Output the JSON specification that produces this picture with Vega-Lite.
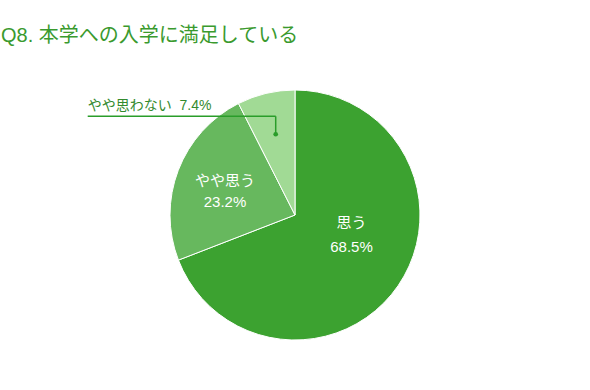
{
  "$schema": "https://vega.github.io/schema/vega-lite/v6.json",
  "width": 590,
  "height": 340,
  "autosize": "none",
  "padding": {"left": 0, "top": 45, "right": 0, "bottom": 5},
  "background": "white",
  "title": {
    "text": "Q8. 本学への入学に満足している",
    "anchor": "start",
    "frame": "group",
    "fontSize": 20,
    "font": "Liberation Sans, Noto Sans CJK JP",
    "fontWeight": "normal",
    "color": "#3a9a2e",
    "baseline": "alphabetic",
    "offset": -17,
    "dx": 1
  },
  "config": {"view": {"stroke": null}},
  "data": {
    "values": [
      {"name": "思う", "value": 68.5},
      {"name": "やや思う", "value": 23.2},
      {"name": "やや思わない", "value": 7.4}
    ]
  },
  "transform": [
    {"window": [{"op": "row_number", "as": "i"}]},
    {"window": [{"op": "sum", "field": "value", "as": "cum"}], "sort": [{"field": "i"}], "frame": [null, 0]},
    {"joinaggregate": [{"op": "sum", "field": "value", "as": "total"}]},
    {"calculate": "(datum.cum - datum.value/2)/datum.total*2*PI", "as": "mid"},
    {"calculate": "datum.name + '\\n' + format(datum.value, '.1f') + '%'", "as": "label"},
    {"calculate": "datum.name + '\\u00a0\\u00a0' + format(datum.value, '.1f') + '%'", "as": "label1"}
  ],
  "layer": [
    {
      "mark": {"type": "arc", "outerRadius": 125, "stroke": "white", "strokeWidth": 1},
      "encoding": {
        "theta": {"field": "value", "type": "quantitative", "stack": true},
        "order": {"field": "i", "type": "quantitative"},
        "color": {
          "field": "name",
          "type": "nominal",
          "scale": {"domain": ["思う", "やや思う", "やや思わない"], "range": ["#3ca230", "#67b85e", "#a1da95"]},
          "legend": null
        }
      }
    },
    {
      "transform": [
        {"filter": "datum.name === '思う'"},
        {"calculate": "0.48*sin(datum.mid)", "as": "px"},
        {"calculate": "0.48*cos(datum.mid)", "as": "py"}
      ],
      "mark": {"type": "text", "color": "white", "fontSize": 15, "font": "Liberation Sans, Noto Sans CJK JP", "lineBreak": "\n", "lineHeight": 24, "align": "center", "baseline": "middle", "dx": 7, "dy": -26},
      "encoding": {
        "x": {"field": "px", "type": "quantitative", "scale": {"domain": [-2.36, 2.36], "nice": false, "zero": false}, "axis": null},
        "y": {"field": "py", "type": "quantitative", "scale": {"domain": [-1.36, 1.36], "nice": false, "zero": false}, "axis": null},
        "text": {"field": "label"}
      }
    },
    {
      "transform": [
        {"filter": "datum.name === 'やや思う'"},
        {"calculate": "0.6*sin(datum.mid)", "as": "px"},
        {"calculate": "0.6*cos(datum.mid)", "as": "py"}
      ],
      "mark": {"type": "text", "color": "white", "fontSize": 15, "font": "Liberation Sans, Noto Sans CJK JP", "lineBreak": "\n", "lineHeight": 21, "align": "center", "baseline": "middle", "dy": -7},
      "encoding": {
        "x": {"field": "px", "type": "quantitative", "scale": {"domain": [-2.36, 2.36], "nice": false, "zero": false}, "axis": null},
        "y": {"field": "py", "type": "quantitative", "scale": {"domain": [-1.36, 1.36], "nice": false, "zero": false}, "axis": null},
        "text": {"field": "label"}
      }
    },
    {
      "transform": [
        {"filter": "datum.name === 'やや思わない'"},
        {"calculate": "0.664*sin(datum.mid)", "as": "px"},
        {"calculate": "0.664*cos(datum.mid)", "as": "py"}
      ],
      "layer": [
        {
          "mark": {"type": "rule", "color": "#2a9d2a", "strokeWidth": 1.5, "y2Offset": -18},
          "encoding": {
            "x": {"field": "px", "type": "quantitative", "scale": {"domain": [-2.36, 2.36], "nice": false, "zero": false}, "axis": null},
            "y": {"field": "py", "type": "quantitative", "scale": {"domain": [-1.36, 1.36], "nice": false, "zero": false}, "axis": null},
            "y2": {"field": "py"}
          }
        },
        {
          "mark": {"type": "rule", "color": "#2a9d2a", "strokeWidth": 1.5, "yOffset": -18, "x2Offset": -188},
          "encoding": {
            "x": {"field": "px", "type": "quantitative", "scale": {"domain": [-2.36, 2.36], "nice": false, "zero": false}, "axis": null},
            "x2": {"field": "px"},
            "y": {"field": "py", "type": "quantitative", "scale": {"domain": [-1.36, 1.36], "nice": false, "zero": false}, "axis": null}
          }
        },
        {
          "mark": {"type": "point", "filled": true, "color": "#2a9d2a", "size": 22, "opacity": 1},
          "encoding": {
            "x": {"field": "px", "type": "quantitative", "scale": {"domain": [-2.36, 2.36], "nice": false, "zero": false}, "axis": null},
            "y": {"field": "py", "type": "quantitative", "scale": {"domain": [-1.36, 1.36], "nice": false, "zero": false}, "axis": null}
          }
        },
        {
          "mark": {"type": "text", "color": "#338a2e", "fontSize": 14, "font": "Liberation Sans, Noto Sans CJK JP", "align": "left", "baseline": "middle", "dx": -188, "dy": -28},
          "encoding": {
            "x": {"field": "px", "type": "quantitative", "scale": {"domain": [-2.36, 2.36], "nice": false, "zero": false}, "axis": null},
            "y": {"field": "py", "type": "quantitative", "scale": {"domain": [-1.36, 1.36], "nice": false, "zero": false}, "axis": null},
            "text": {"field": "label1"}
          }
        }
      ]
    }
  ]
}
